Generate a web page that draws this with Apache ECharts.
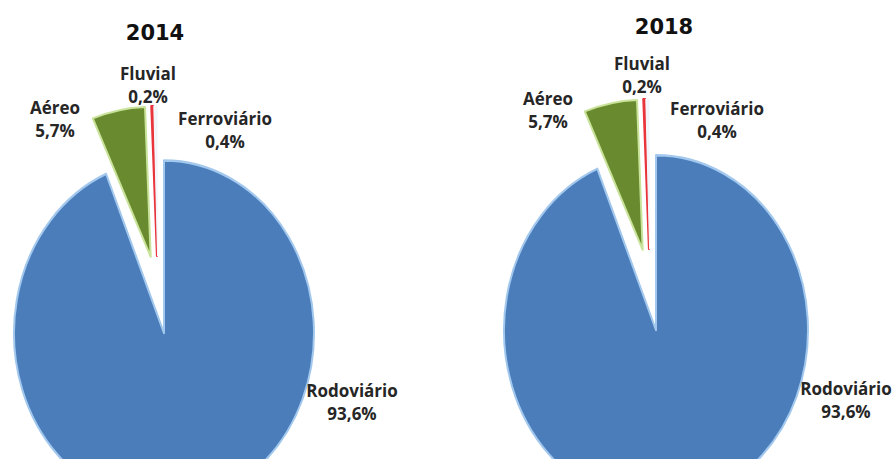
<!DOCTYPE html>
<html>
<head>
<meta charset="utf-8">
<script src="https://cdn.jsdelivr.net/npm/echarts@6/dist/echarts.min.js"></script>
<style>
html,body{margin:0;padding:0;background:#fff;overflow:hidden;}
#wrap{width:896px;height:459px;overflow:hidden;position:relative;background:#fff;}
#a{position:absolute;left:0;top:0;width:896px;height:399px;transform:scaleY(1.1504);transform-origin:0 0;}
#b{position:absolute;left:0;top:0;width:896px;height:459px;}
</style>
</head>
<body>
<div id="wrap"><div id="a"></div><div id="b"></div></div>
<script>
var categories = ['Rodoviário', 'Aéreo', 'Fluvial', 'Ferroviário'];
var values2014 = [93.6, 5.7, 0.2, 0.4];
var values2018 = [93.6, 5.7, 0.2, 0.4];
var years = ['2014', '2018'];

var fills = ['#4a7dba', '#6a8a2f', '#e3242b', '#f1f5fa'];
var borders = ['#a3c8ee', '#c9e49a', '#e8343a', '#f5f8fc'];
var borderWidths = [2, 2, 2, 1];

// layout (screen px)
var bigCenters = [[157.3, 256.2], [649.3, 253.6]];   // in the vertically stretched layer
var bigRadius = [150, 152];
var smallCenters = [[158, 290], [650, 283]];
var smallRadius = 150;
var labelPos = [
  [[352, 402], [55, 119], [148, 85], [225, 130]],
  [[846, 400], [548, 110], [642, 75], [717, 120]]
];
var titlePos = [[150, 28], [659, 22]];

function fmt(v){ return String(v).replace('.', ','); }

// layer A: the large slice (stretched vertically like the reference)
// layer B: the small slices, labels and titles
function makeSeries(vals, center, radius, bigLayer){
  return {
    type: 'pie',
    center: center,
    radius: radius,
    startAngle: 90,
    clockwise: true,
    selectedMode: 'multiple',
    selectedOffset: 34,
    minAngle: 0,
    emphasis: {disabled: true, scale: false},
    label: {show: false},
    labelLine: {show: false},
    data: categories.map(function(name, i){
      var visible = bigLayer ? (i === 0) : (i !== 0);
      return {
        name: name,
        value: vals[i],
        selected: true,
        itemStyle: visible
          ? {color: fills[i], borderColor: borders[i], borderWidth: borderWidths[i]}
          : {color: 'rgba(0,0,0,0)', borderWidth: 0}
      };
    })
  };
}

function makeLabels(idx, vals){
  return categories.map(function(name, i){
    var p = labelPos[idx][i];
    return {
      type: 'text',
      x: p[0], y: p[1],
      silent: true,
      z: 100,
      style: {
        text: name + '\n' + fmt(vals[i]) + '%',
        fontFamily: 'Open Sans',
        fontWeight: 'bold',
        fontSize: 17,
        lineHeight: 23,
        fill: '#262626',
        align: 'center',
        verticalAlign: 'middle'
      }
    };
  });
}

var allVals = [values2014, values2018];

var chartA = echarts.init(document.getElementById('a'), null, {renderer: 'svg'});
chartA.setOption({
  animation: false,
  series: [
    makeSeries(allVals[0], bigCenters[0], bigRadius[0], true),
    makeSeries(allVals[1], bigCenters[1], bigRadius[1], true)
  ]
});

var chartB = echarts.init(document.getElementById('b'), null, {renderer: 'svg'});
chartB.setOption({
  animation: false,
  backgroundColor: 'transparent',
  title: years.map(function(y, i){
    return {
      text: y, left: titlePos[i][0], top: titlePos[i][1],
      textAlign: 'center', textVerticalAlign: 'middle',
      textStyle: {fontFamily: 'DejaVu Sans', fontSize: 21, fontWeight: 'bold', color: '#111'}
    };
  }),
  series: [
    makeSeries(allVals[0], smallCenters[0], smallRadius, false),
    makeSeries(allVals[1], smallCenters[1], smallRadius, false)
  ],
  graphic: makeLabels(0, allVals[0]).concat(makeLabels(1, allVals[1]))
});
</script>
</body>
</html>
